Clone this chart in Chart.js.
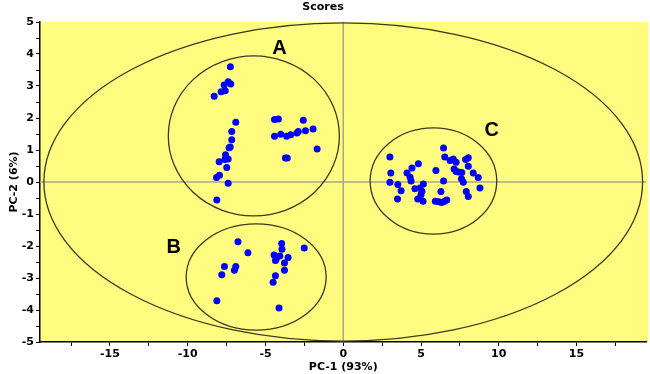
<!DOCTYPE html>
<html><head><meta charset="utf-8">
<script src="https://cdn.jsdelivr.net/npm/chart.js@4/dist/chart.umd.min.js"></script>
<style>html,body{margin:0;padding:0;background:#fff}#wrap{width:650px;height:374px}</style>
</head><body><div id="wrap"><canvas id="c" width="650" height="374"></canvas></div>
<script>
// Group A scores
const groupA_x = [-7.26,-7.40,-7.23,-7.66,-7.59,-7.85,-8.30,-6.91,-7.17,-7.17,-7.27,-7.34,-7.57,-7.40,-7.61,-7.98,-7.49,-7.96,-8.15,-7.40,-8.13,
  -4.42,-4.17,-2.57,-4.42,-4.02,-3.64,-3.38,-2.98,-2.89,-2.43,-1.94,-1.68,-3.72,-3.60];
const groupA_y = [3.60,3.13,3.06,3.03,2.85,2.82,2.68,1.87,1.58,1.32,1.09,1.07,0.85,0.72,0.70,0.63,0.45,0.21,0.14,-0.04,-0.56,
  1.95,1.97,1.93,1.43,1.49,1.43,1.48,1.53,1.58,1.60,1.66,1.03,0.75,0.75];
// Group B scores
const groupB_x = [-6.77,-6.13,-7.64,-6.91,-7.00,-7.81,-8.13,-3.96,-3.94,-2.51,-4.45,-4.08,-4.29,-4.36,-3.55,-3.78,-3.78,-4.36,-4.51,-4.13];
const groupB_y = [-1.87,-2.21,-2.64,-2.64,-2.76,-2.90,-3.71,-1.92,-2.10,-2.06,-2.28,-2.31,-2.38,-2.45,-2.36,-2.53,-2.76,-2.93,-3.13,-3.94];
// Group C scores
const groupC_x = [3.00,3.06,3.00,3.51,3.72,3.49,4.10,4.42,4.83,4.30,4.36,4.61,4.93,5.15,5.06,5.00,4.79,5.13,5.96,6.45,6.53,6.87,7.07,7.26,
  6.45,6.28,5.92,6.13,6.32,6.49,6.66,7.13,7.26,7.40,7.62,7.60,7.72,7.91,8.04,7.87,8.04,8.04,8.36,8.68,8.79];
const groupC_y = [0.78,0.28,-0.01,-0.08,-0.27,-0.53,0.28,0.44,0.57,0.15,0.03,-0.21,-0.19,-0.06,-0.29,-0.40,-0.53,-0.60,0.36,1.06,0.78,0.67,0.72,0.62,
  0.03,-0.30,-0.60,-0.62,-0.64,-0.61,-0.56,0.41,0.33,0.31,0.30,0.10,-0.01,-0.30,-0.45,0.70,0.76,0.49,0.28,0.14,-0.19];

// Ellipses (data units): outer confidence ellipse, then cluster circles A, B, C
const ellipseCx = [0, -5.75, -5.6, 5.8];
const ellipseCy = [0, 1.44, -2.97, 0.03];
const ellipseRx = [19.25, 5.5, 4.5, 4.07];
const ellipseRy = [4.97, 2.5, 1.66, 1.66];

// Cluster letters
const clusterLabels = ['A', 'B', 'C'];
const clusterLabelX = [-4.1, -10.9, 9.55];
const clusterLabelY = [4.17, -2.05, 1.62];

const xTickLabels = [-15, -10, -5, 0, 5, 10, 15];
const yTickLabels = [-5, -4, -3, -2, -1, 0, 1, 2, 3, 4, 5];

function pts(xs, ys) { return xs.map((x, i) => ({ x: x, y: ys[i] })); }

const AXFONT = '"DejaVu Sans", Verdana, sans-serif';
const LFONT = '"Liberation Sans", Arial, sans-serif';

const decor = {
  id: 'decor',
  beforeDraw(chart) {
    const { ctx, chartArea: a } = chart;
    ctx.save();
    ctx.fillStyle = '#FFFC80';
    ctx.fillRect(a.left, a.top, a.right - a.left + 2, a.bottom - a.top);
    ctx.restore();
  },
  beforeDatasetsDraw(chart) {
    const { ctx, chartArea: a, scales: { x, y } } = chart;
    ctx.save();
    ctx.beginPath();
    ctx.rect(a.left, a.top, a.right - a.left, a.bottom - a.top);
    ctx.clip();
    ctx.strokeStyle = '#A9A68A';
    ctx.lineWidth = 1.5;
    ctx.beginPath();
    const x0 = x.getPixelForValue(0), y0 = y.getPixelForValue(0);
    ctx.moveTo(x0, a.top); ctx.lineTo(x0, a.bottom);
    ctx.moveTo(a.left, y0); ctx.lineTo(a.right, y0);
    ctx.stroke();
    ctx.strokeStyle = '#3E3820';
    ctx.lineWidth = 1.3;
    for (let i = 0; i < ellipseCx.length; i++) {
      const cx = x.getPixelForValue(ellipseCx[i]);
      const cy = y.getPixelForValue(ellipseCy[i]);
      const rx = Math.abs(x.getPixelForValue(ellipseCx[i] + ellipseRx[i]) - cx);
      const ry = Math.abs(y.getPixelForValue(ellipseCy[i] + ellipseRy[i]) - cy);
      ctx.beginPath();
      ctx.ellipse(cx, cy, rx, ry, 0, 0, Math.PI * 2);
      ctx.stroke();
    }
    ctx.restore();
  },
  afterDraw(chart) {
    const { ctx, scales: { x, y } } = chart;
    ctx.save();
    ctx.fillStyle = '#000';
    ctx.textAlign = 'center';
    ctx.textBaseline = 'middle';
    ctx.font = 'bold 20px ' + LFONT;
    for (let i = 0; i < clusterLabels.length; i++) {
      ctx.fillText(clusterLabels[i], x.getPixelForValue(clusterLabelX[i]), y.getPixelForValue(clusterLabelY[i]));
    }
    ctx.font = 'bold 11px ' + AXFONT;
    ctx.fillText('Scores', 323, 7);
    ctx.restore();
  }
};

const ds = (data) => ({ data, backgroundColor: '#0000FF', borderWidth: 0, pointRadius: 3.5, pointHoverRadius: 3.5 });

new Chart(document.getElementById('c'), {
  type: 'scatter',
  data: { datasets: [ds(pts(groupA_x, groupA_y)), ds(pts(groupB_x, groupB_y)), ds(pts(groupC_x, groupC_y))] },
  options: {
    responsive: false,
    devicePixelRatio: 1,
    animation: false,
    layout: { padding: { top: 22, right: 1, left: 0, bottom: 0 } },
    plugins: { legend: { display: false }, tooltip: { enabled: false }, title: { display: false } },
    scales: {
      x: {
        type: 'linear', min: -19.5, max: 19.5,
        afterFit(s) { s.height = 32; },
        afterBuildTicks(s) {
          const t = [];
          for (let v = -17.5; v <= 17.5 + 1e-9; v += 2.5) t.push({ value: v });
          s.ticks = t;
        },
        grid: { drawOnChartArea: false, tickLength: 4, color: '#000', tickColor: '#000' },
        border: { display: true, color: '#000', width: 1.5 },
        ticks: {
          padding: 2, color: '#000', font: { family: AXFONT, size: 11, weight: 'bold' }, maxRotation: 0, autoSkip: false,
          callback: (v) => xTickLabels.includes(v) ? String(v) : ''
        },
        title: { display: true, text: 'PC-1 (93%)', color: '#000', font: { family: AXFONT, size: 11, weight: 'bold' }, padding: { top: 0, bottom: 0 } }
      },
      y: {
        type: 'linear', min: -5, max: 5,
        afterFit(s) { s.width = 40; },
        afterBuildTicks(s) {
          const t = [];
          for (let v = -5; v <= 5 + 1e-9; v += 0.5) t.push({ value: v });
          s.ticks = t;
        },
        grid: { drawOnChartArea: false, tickLength: 4, color: '#000', tickColor: '#000' },
        border: { display: true, color: '#000', width: 1.5 },
        ticks: {
          padding: 2, color: '#000', font: { family: AXFONT, size: 11, weight: 'bold' }, autoSkip: false,
          callback: (v) => yTickLabels.includes(v) ? String(v) : ''
        },
        title: { display: true, text: 'PC-2 (6%)', color: '#000', font: { family: AXFONT, size: 11, weight: 'bold' }, padding: { top: 8, bottom: 0 } }
      }
    }
  },
  plugins: [decor]
});
</script>
</body></html>
